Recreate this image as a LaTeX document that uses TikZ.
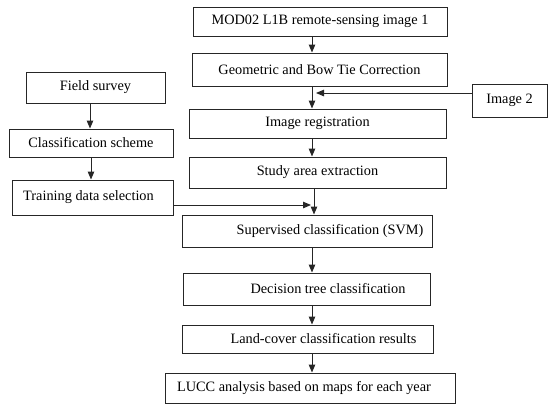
\documentclass[tikz,border=0pt]{standalone}
\usepackage{fontspec}
\setmainfont{Liberation Serif}
\usetikzlibrary{arrows.meta}
\begin{document}
\begin{tikzpicture}[x=1pt,y=-1pt,
  box/.style={draw=black!85,line width=1pt,inner sep=0pt,font=\fontsize{14.3}{17}\selectfont,anchor=center},
  arr/.style={draw=black!85,line width=1pt,-{Triangle[length=8pt,width=6.5pt]}}]
\useasboundingbox (0,0) rectangle (552,408);
% right column
\node[box,minimum width=254pt,minimum height=29pt] (b1) at (320,21.5) {MOD02 L1B remote-sensing image 1};
\node[box,minimum width=255pt,minimum height=33pt] (b2) at (319.5,69.5) {Geometric and Bow Tie Correction};
\node[box,minimum width=257pt,minimum height=29pt] (b3) at (317.5,123.5) {Image registration};
\node[box,minimum width=257pt,minimum height=31pt] (b4) at (317.5,172.5) {Study area extraction};
\node[box,minimum width=75pt,minimum height=33pt] (img2) at (509.5,100.5) {Image 2};
% left column
\node[box,minimum width=139pt,minimum height=31pt] (fs) at (95.5,87.5) {Field survey};
\node[box,minimum width=164pt,minimum height=28pt] (cs) at (91,143) {Classification scheme};
\node[box,minimum width=161pt,minimum height=35pt] (td) at (92.5,197.5) {Training data selection\hspace*{8pt}};
% lower column
\node[box,minimum width=250pt,minimum height=32pt] (sv) at (307,231) {\hspace*{46pt}Supervised classification (SVM)};
\node[box,minimum width=247pt,minimum height=32pt] (dt) at (306.5,289) {\hspace*{43pt}Decision tree classification};
\node[box,minimum width=251pt,minimum height=28pt] (lc) at (307.5,339) {\hspace*{32pt}Land-cover classification results};
\node[box,minimum width=290pt,minimum height=30pt] (lu) at (310,388) {LUCC analysis based on maps for each year\hspace*{12pt}};
% guide coordinates
\coordinate (mx) at (312,0);
\coordinate (sx) at (314,0);
\coordinate (j2) at (316,93);
\coordinate (j1) at (311,205);
\coordinate (lx) at (90,0);
\coordinate (lx2) at (91,0);
% connectors
\draw[arr] (b1.south -| mx) -- (b2.north -| mx);
\draw[arr] (b2.south -| mx) -- (b3.north -| mx);
\draw[arr] (j2 -| img2.west) -- (j2);
\draw[arr] (b3.south -| mx) -- (b4.north -| mx);
\draw[arr] (b4.south -| sx) -- (sv.north -| sx);
\draw[arr] (j1 -| td.east) -- (j1);
\draw[arr] (sv.south -| mx) -- (dt.north -| mx);
\draw[arr] (dt.south -| mx) -- (lc.north -| mx);
\draw[arr] (lc.south -| mx) -- (lu.north -| mx);
\draw[arr] (fs.south -| lx) -- (cs.north -| lx);
\draw[arr] (cs.south -| lx2) -- (td.north -| lx2);
\end{tikzpicture}
\end{document}
